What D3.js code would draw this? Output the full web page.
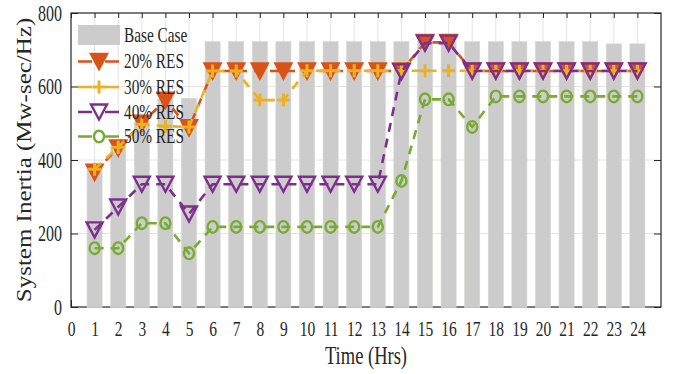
<!DOCTYPE html>
<html>
<head>
<meta charset="utf-8">
<script src="https://cdn.jsdelivr.net/npm/d3@7"></script>
<style>
  body { margin: 0; background: #fff; }
  text { font-family: "Liberation Serif", "Times New Roman", serif; fill: #262626; }
</style>
</head>
<body>
<svg id="chart" width="673" height="374"></svg>
<script>
// Hourly system inertia (MW-sec/Hz) for the base case and each renewable share
const hours = d3.range(1, 25);
const xTicks = d3.range(0, 25);
const yTicks = [0, 200, 400, 600, 800];

const baseCase = [373, 437, 505, 567, 568, 722, 722, 722, 722, 722, 722, 722, 722, 722, 722, 722, 722, 722, 722, 722, 722, 722, 716, 716];
const res20 = [367, 433, 500, 563, 488, 642, 642, 642, 642, 642, 642, 642, 642, 642, 720, 720, 642, 642, 642, 642, 642, 642, 642, 642];
const res30 = [375, 435, 497, 492, 490, 642, 642, 563, 563, 643, 643, 643, 643, 643, 643, 643, 643, 643, 643, 643, 643, 643, 643, 643];
const res40 = [210, 272, 334, 334, 253, 334, 334, 334, 334, 334, 334, 334, 334, 640, 718, 718, 642, 642, 642, 642, 642, 642, 642, 642];
const res50 = [160, 160, 228, 228, 146, 218, 218, 218, 218, 218, 218, 218, 218, 343, 565, 565, 490, 573, 573, 573, 573, 573, 573, 573];

const seriesNames = ["20% RES", "30% RES", "40% RES", "50% RES"];
const seriesValues = [res20, res30, res40, res50];
const seriesColors = ["#D95319", "#EDB120", "#7E2F8E", "#77AC30"];
const seriesMarkers = ["triFilled", "plus", "triOpen", "circle"];

const TS = 1.4;            // vertical stretch applied to all text
const ink = "#262626";

const svg = d3.select("#chart");
const plot = { left: 71, right: 661, top: 13, bottom: 307 };

const x = d3.scaleLinear().domain([0, 25]).range([plot.left, plot.right]);
const y = d3.scaleLinear().domain([0, 800]).range([plot.bottom, plot.top]);
const barW = x(0.64) - x(0);

// grid
const grid = svg.append("g");
grid.selectAll("line.v").data(xTicks.slice(1)).join("line")
  .attr("x1", d => x(d)).attr("x2", d => x(d))
  .attr("y1", plot.top).attr("y2", plot.bottom)
  .attr("stroke", "#e4e4e4").attr("stroke-width", 1);
grid.selectAll("line.h").data(yTicks.slice(1, -1)).join("line")
  .attr("x1", plot.left).attr("x2", plot.right)
  .attr("y1", d => y(d)).attr("y2", d => y(d))
  .attr("stroke", "#e4e4e4").attr("stroke-width", 1);

// axes (drawn under the bars)
function styleAxis(g) {
  g.select(".domain").remove();
  g.selectAll(".tick line").attr("stroke", ink);
}
const gx = svg.append("g").attr("transform", `translate(0,${plot.bottom})`)
  .call(d3.axisBottom(x).tickValues(xTicks).tickSize(-7).tickFormat(d3.format("d")))
  .call(styleAxis);
gx.selectAll(".tick text")
  .attr("y", 0).attr("dy", null)
  .attr("transform", `translate(0,29) scale(1,${TS})`)
  .attr("font-size", 15.5).attr("fill", ink)
  .style("font-family", '"Liberation Serif", serif');

svg.append("g").attr("transform", `translate(0,${plot.top})`)
  .call(d3.axisTop(x).tickValues(xTicks).tickSize(-5).tickFormat(""))
  .call(styleAxis);

const gy = svg.append("g").attr("transform", `translate(${plot.left},0)`)
  .call(d3.axisLeft(y).tickValues(yTicks).tickSize(-7))
  .call(styleAxis);
gy.selectAll(".tick text")
  .attr("x", 0).attr("dy", null)
  .attr("transform", `translate(-9,7) scale(1,${TS})`)
  .attr("font-size", 16).attr("fill", ink)
  .style("font-family", '"Liberation Serif", serif');

svg.append("g").attr("transform", `translate(${plot.right},0)`)
  .call(d3.axisRight(y).tickValues(yTicks).tickSize(-7).tickFormat(""))
  .call(styleAxis);

// box
svg.append("rect")
  .attr("x", plot.left).attr("y", plot.top)
  .attr("width", plot.right - plot.left).attr("height", plot.bottom - plot.top)
  .attr("fill", "none").attr("stroke", ink).attr("stroke-width", 1.2);

// base case bars
svg.append("g").selectAll("rect").data(hours).join("rect")
  .attr("x", d => x(d) - barW / 2)
  .attr("y", (d, i) => y(baseCase[i]))
  .attr("width", barW)
  .attr("height", (d, i) => y(0) - y(baseCase[i]) + 0.5)
  .attr("fill", "#cccccc")
  .attr("stroke", "#d6d6d0").attr("stroke-width", 0.6);

// marker drawing
function drawMarker(g, type, color) {
  if (type === "triFilled" || type === "triOpen") {
    const w = 8, h = 7.5;
    g.append("path")
      .attr("d", `M${-w},${-h}L${w},${-h}L0,${h}Z`)
      .attr("fill", type === "triFilled" ? color : "none")
      .attr("stroke", color).attr("stroke-width", 2.4)
      .attr("stroke-linejoin", "miter");
  } else if (type === "plus") {
    const s = 6.5;
    g.append("path")
      .attr("d", `M${-s},0H${s}M0,${-s}V${s}`)
      .attr("stroke", color).attr("stroke-width", 3).attr("fill", "none");
  } else {
    g.append("ellipse").attr("rx", 5).attr("ry", 5.8)
      .attr("fill", "none").attr("stroke", color).attr("stroke-width", 2.4);
  }
}

const dash = "9,7";
const line = d3.line().x((d, i) => x(hours[i])).y(d => y(d));

seriesValues.forEach((vals, k) => {
  const g = svg.append("g");
  g.append("path").datum(vals)
    .attr("d", line)
    .attr("fill", "none")
    .attr("stroke", seriesColors[k]).attr("stroke-width", 2.6)
    .attr("stroke-dasharray", dash);
  vals.forEach((v, i) => {
    const m = g.append("g").attr("transform", `translate(${x(hours[i])},${y(v)})`);
    drawMarker(m, seriesMarkers[k], seriesColors[k]);
  });
});

// legend
const leg = svg.append("g");
const legX0 = 78, legX1 = 120, legTextX = 124;
const legRows = [35, 61.5, 87, 112, 136.5];
leg.append("rect").attr("x", legX0).attr("y", legRows[0] - 10)
  .attr("width", legX1 - legX0).attr("height", 20).attr("fill", "#cccccc");
leg.append("text").attr("transform", `translate(${legTextX},${legRows[0] + 6.5}) scale(1,${TS})`)
  .attr("font-size", 15.3).text("Base Case");
seriesNames.forEach((name, k) => {
  const cy = legRows[k + 1];
  leg.append("line").attr("x1", legX0).attr("x2", legX1).attr("y1", cy).attr("y2", cy)
    .attr("stroke", seriesColors[k]).attr("stroke-width", 2.6)
    .attr("stroke-dasharray", "14,13");
  const m = leg.append("g").attr("transform", `translate(${(legX0 + legX1) / 2},${cy})`);
  drawMarker(m, seriesMarkers[k], seriesColors[k]);
  leg.append("text").attr("transform", `translate(${legTextX},${cy + 6.5}) scale(1,${TS})`)
    .attr("font-size", 15.3).text(name);
});

// axis titles
svg.append("text")
  .attr("transform", `translate(${(plot.left + plot.right) / 2},364) scale(1,${TS})`)
  .attr("text-anchor", "middle").attr("font-size", 18.5).text("Time (Hrs)");
svg.append("text")
  .attr("transform", `translate(31,${(plot.top + plot.bottom) / 2}) rotate(-90) scale(1.25,1)`)
  .attr("text-anchor", "middle").attr("font-size", 20).text("System Inertia (Mw-sec/Hz)");
</script>
</body>
</html>
